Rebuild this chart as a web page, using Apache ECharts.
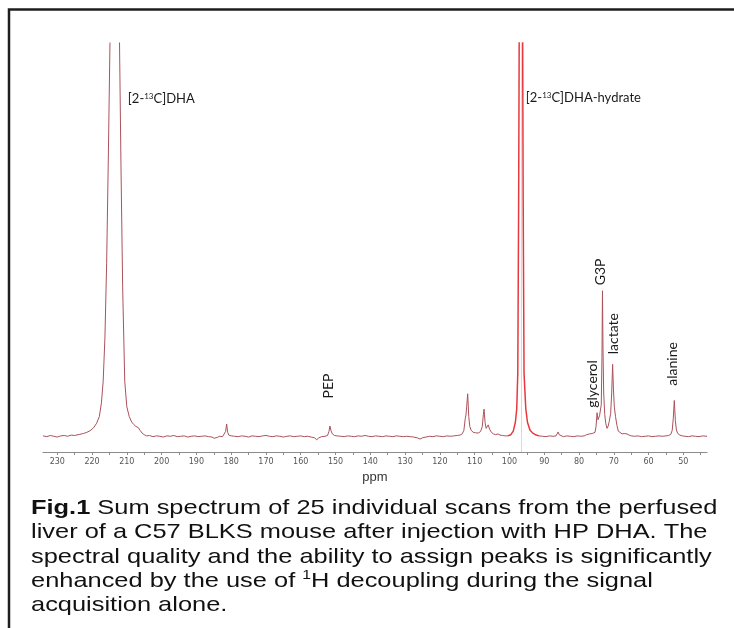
<!DOCTYPE html>
<html>
<head>
<meta charset="utf-8">
<title>Fig.1 13C spectrum</title>
<script src="https://cdn.jsdelivr.net/npm/echarts@6.0.0/dist/echarts.min.js"></script>
<style>
  html, body { margin: 0; padding: 0; background: #fff; }
  #container { width: 734px; height: 628px; }
</style>
</head>
<body>
<div id="container"></div>
<script>
// spectrum: [ppm, intensity], baseline = 0, plot top = 100
var spectrumLeft = [
  [234.1, 0.1], [233, -0.1], [232, 0.2], [231, 0.0], [230, -0.2], [229, 0.1], [228, 0.2], [227, 0.0],
  [226, 0.3], [225, 0.2], [224.5, 0.3], [223.5, 0.5], [222.5, 0.7], [221.5, 1.0], [220.6, 1.4],
  [219.6, 2.1], [218.7, 3.3], [217.9, 5.0], [217.3, 8.5], [216.8, 14], [216.3, 25], [215.8, 44],
  [215.3, 72], [214.85, 100], [214.3, 160], [213.5, 600], [212.7, 160], [212.1, 100], [211.7, 70],
  [211.2, 38], [210.6, 14], [210.0, 7.5], [209.3, 5.0], [208.6, 3.6], [208.0, 3.0], [207.4, 2.5],
  [207.0, 2.9], [206.7, 2.2], [206.2, 1.5], [205.6, 0.8], [205.0, 0.4], [204.3, 0.1], [203.5, 0.2],
  [202.5, -0.1], [201.5, 0.1], [200.5, 0.0], [199.5, -0.2], [198.5, 0.1], [197.5, 0.0], [196.5, 0.2],
  [195.5, -0.1], [194.5, 0.0], [193.5, 0.1], [192.5, -0.2], [191.5, 0.0], [190.5, 0.1], [189.5, -0.1],
  [188.5, 0.0], [187.5, 0.1], [186.5, -0.1], [185.5, -0.2], [184.9, -0.5], [184.5, -0.7], [184.0, -0.3],
  [183.3, 0.0], [182.5, -0.1], [182.0, 0.1], [181.6, 1.2], [181.3, 3.1], [181.0, 1.0], [180.7, 0.3],
  [180.0, 0.1], [179, 0.0], [178, -0.1], [177, 0.1], [176, 0.0], [175, -0.2], [174, 0.1], [173, 0.0],
  [172, -0.1], [171, 0.1], [170, 0.2], [169, 0.0], [168, -0.1], [167, 0.1], [166, 0.0], [165, -0.2],
  [164, 0.0], [163, 0.1], [162, -0.1], [161, 0.0], [160, 0.1], [159, -0.1], [158, 0.0], [157, -0.2],
  [156.0, -0.4], [155.4, -0.9], [154.8, -0.4], [154.0, -0.1], [153.0, 0.0], [152.3, 0.2], [151.9, 1.2],
  [151.6, 2.6], [151.3, 1.4], [150.9, 0.6], [150.3, 0.2], [149.5, 0.1], [148.5, 0.0], [147.5, -0.1],
  [146.5, 0.1], [145.5, 0.0], [144.5, -0.1], [143.5, 0.1], [142.5, 0.0], [141.5, 0.2], [140.5, 0.0],
  [139.5, -0.1], [138.5, 0.1], [137.5, 0.0], [136.5, -0.1], [135.5, 0.1], [134.5, 0.0], [133.5, -0.1],
  [132.5, 0.1], [131.5, 0.0], [130.5, -0.1], [129.5, 0.0], [128.5, -0.1], [127.5, -0.2], [126.5, -0.4],
  [125.7, -0.7], [125.0, -0.4], [124.0, -0.2], [123.0, 0.0], [122.0, -0.1], [121.0, 0.1], [120.0, 0.0],
  [119.0, -0.1], [118.0, 0.1], [117.0, 0.0], [116.0, 0.1], [115.0, 0.2], [114.2, 0.3], [113.6, 0.6],
  [113.1, 1.5], [112.7, 4.5], [112.5, 5.4], [112.3, 7.5], [112.0, 10.8], [111.7, 5.0], [111.4, 2.5],
  [111.0, 1.5], [110.4, 1.0], [109.8, 0.9], [109.0, 0.8], [108.3, 1.2], [107.8, 2.5], [107.5, 5.5],
  [107.3, 6.9], [107.0, 3.5], [106.7, 2.0], [106.4, 2.4], [106.1, 2.9], [105.7, 1.8], [105.2, 1.0],
  [104.6, 0.6], [104.0, 0.4], [103.3, 0.6], [102.7, 0.3], [102.0, 0.2], [101.2, 0.1], [100.5, 0.1]
];
var hydratePeak = [
  [100.5, 0.1], [99.6, 0.4], [98.9, 1.3], [98.3, 3.5], [97.9, 7], [97.6, 16], [97.35, 60], [97.2, 100],
  [96.7, 420], [96.2, 100], [96.05, 60], [95.8, 16], [95.3, 7], [94.8, 3.5], [94.1, 1.6], [93.3, 0.8],
  [92.3, 0.3], [91.5, 0.1]
];
var spectrumRight = [
  [91.5, 0.1], [90.5, 0.0], [89.5, -0.1], [88.5, 0.1], [87.5, 0.0], [86.6, 0.1], [86.3, 0.6], [86.0, 1.1],
  [85.7, 0.4], [85.2, 0.0], [84.5, -0.1], [83.5, 0.1], [82.5, 0.0], [81.5, -0.1], [80.5, 0.1], [79.5, 0.0],
  [78.5, 0.1], [77.8, 0.4], [77.4, 0.2], [77.0, 0.6], [76.6, 0.3], [76.2, 0.7], [75.8, 0.6], [75.4, 1.0],
  [75.1, 2.5], [74.8, 6.0], [74.55, 4.2], [74.35, 3.8], [74.1, 5.2], [73.9, 4.8], [73.6, 8], [73.4, 20],
  [73.25, 37], [73.1, 22], [72.9, 11], [72.6, 5.5], [72.3, 3.2], [71.95, 2.0], [71.6, 2.6], [71.3, 3.8],
  [70.9, 5.8], [70.6, 11], [70.33, 18.3], [70.1, 12], [69.85, 7.5], [69.5, 5.0], [69.1, 2.8], [68.7, 1.3],
  [68.2, 0.8], [67.6, 0.6], [67.0, 0.7], [66.6, 1.1], [66.2, 0.6], [65.6, 0.3], [65.0, 0.1], [64, 0.0],
  [63, 0.1], [62, -0.1], [61, 0.0], [60, 0.1], [59, -0.1], [58, 0.0], [57, 0.1], [56, 0.0], [55, 0.1],
  [54.2, 0.2], [53.6, 0.5], [53.2, 1.5], [52.9, 4.5], [52.6, 9.1], [52.3, 4.0], [52.0, 1.6], [51.6, 0.7],
  [51.0, 0.3], [50.3, 0.1], [49.5, 0.0], [48.5, -0.1], [47.5, 0.1], [46.5, 0.0], [45.5, -0.1], [44.5, 0.1],
  [43.2, 0.0]
];

var tickLabels = [230, 220, 210, 200, 190, 180, 170, 160, 150, 140, 130, 120, 110, 100, 90, 80, 70, 60, 50];
var tickMarks = [230, 225, 220, 215, 210, 205, 200, 195, 190, 185, 180, 175, 170, 165, 160, 155, 150, 145,
  140, 135, 130, 125, 120, 115, 110, 105, 100, 95, 90, 85, 80, 75, 70, 65, 60, 55, 50, 45];

// peak names and where their text sits
var peakNames = ['{n|[2-}{s|13}{n|C]DHA}', '{n|[2-}{s|13}{n|C]DHA-hydrate}', 'PEP', 'glycerol', 'G3P', 'lactate', 'alanine'];
var labelPpm = [209.7, 95.3, 151.9, 76.0, 73.7, 70.2, 53.0];
var labelInt = [85.8, 86.1, 12.8, 13.3, 41.8, 26.1, 18.4];

var captionLines = [
  '{b|Fig.1} Sum spectrum of 25 individual scans from the perfused',
  'liver of a C57 BLKS mouse after injection with HP DHA. The',
  'spectral quality and the ability to assign peaks is significantly',
  'enhanced by the use of {sup|1}H decoupling during the signal',
  'acquisition alone.'
];

var lineColor = '#ab525c';
var textFont = 'Lato, "Open Sans", sans-serif';
var captionFont = '"Liberation Sans", Arial, sans-serif';

var marks = [];
for (var i = 0; i < peakNames.length; i++) {
  var flat = i < 2;
  marks.push({
    coord: [labelPpm[i], labelInt[i]],
    label: {
      formatter: peakNames[i],
      rotate: flat ? 0 : 90,
      align: flat ? 'left' : 'center',
      verticalAlign: 'middle'
    }
  });
}

var dom = document.getElementById('container');
var myChart = echarts.init(dom);
var option = {
  animation: false,
  backgroundColor: '#fff',
  grid: { left: 43, right: 27, top: 43, bottom: 176 },
  xAxis: {
    type: 'value',
    inverse: true,
    min: 43.2,
    max: 234.1,
    name: 'ppm',
    nameLocation: 'middle',
    nameGap: 9,
    nameTextStyle: { fontSize: 13, color: '#333', fontFamily: captionFont },
    axisLine: { onZero: false, lineStyle: { color: '#8c8c8c', width: 1.2 } },
    axisTick: { show: true, length: 3, customValues: tickMarks, lineStyle: { color: '#8c8c8c' } },
    axisLabel: {
      customValues: tickLabels,
      margin: 6,
      fontSize: 8,
      color: '#555',
      fontFamily: '"DejaVu Sans", sans-serif'
    },
    splitLine: { show: false }
  },
  yAxis: { type: 'value', min: -4, max: 100, show: false },
  series: [
    {
      type: 'line', data: spectrumLeft, showSymbol: false, clip: true, silent: true,
      lineStyle: { color: lineColor, width: 1 },
      markPoint: {
        symbol: 'circle', symbolSize: 1, silent: true,
        itemStyle: { color: 'rgba(0,0,0,0)' },
        label: {
          show: true, position: 'inside', color: '#1a1a1a', fontSize: 14, fontFamily: textFont,
          rich: {
            n: { fontSize: 13, fontFamily: textFont, color: '#1a1a1a' },
            s: { fontSize: 8, fontFamily: textFont, color: '#1a1a1a', verticalAlign: 'top', lineHeight: 8 }
          }
        },
        data: marks
      }
    },
    {
      type: 'line', data: hydratePeak, showSymbol: false, clip: true, silent: true, z: 3,
      lineStyle: { color: '#e8383d', width: 1.5 },
      markLine: {
        silent: true, symbol: 'none', label: { show: false },
        lineStyle: { color: '#f8cccc', width: 1, type: 'solid' },
        data: [{ xAxis: 96.7 }]
      }
    },
    {
      type: 'line', data: spectrumRight, showSymbol: false, clip: true, silent: true,
      lineStyle: { color: lineColor, width: 1 }
    }
  ],
  graphic: [
    {
      type: 'polyline', silent: true,
      shape: { points: [[9, 640], [9, 9.5], [745, 9.5]] },
      style: { stroke: '#1e1e1e', lineWidth: 2.5, fill: null }
    },
    {
      type: 'text', silent: true, x: 31, y: 496, scaleX: 1.21,
      style: {
        text: captionLines.join('\n'),
        fontSize: 21,
        fontFamily: captionFont,
        fill: '#111',
        lineHeight: 24.3,
        textAlign: 'left',
        textVerticalAlign: 'top',
        rich: {
          b: { fontSize: 21, fontWeight: 'bold', fontFamily: captionFont, fill: '#111', lineHeight: 24.3 },
          sup: { fontSize: 13, fontFamily: captionFont, fill: '#111', verticalAlign: 'top', lineHeight: 10 }
        }
      }
    }
  ]
};
myChart.setOption(option, true);
</script>
</body>
</html>
